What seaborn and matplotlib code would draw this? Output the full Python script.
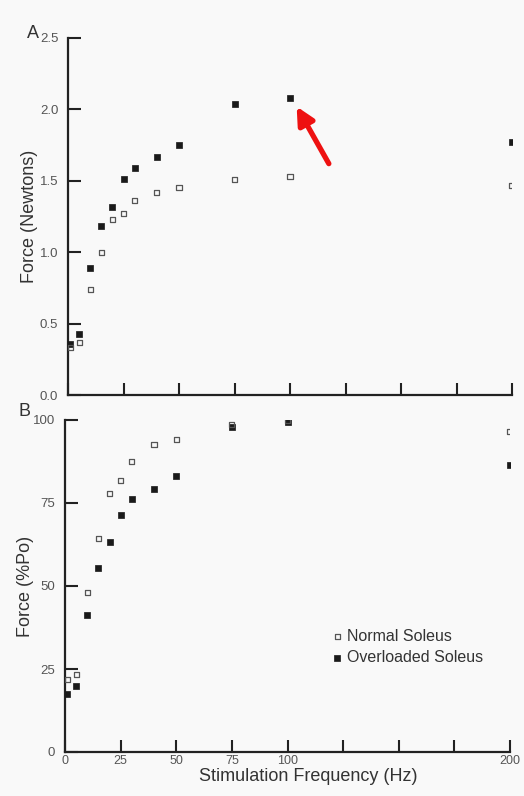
import matplotlib
matplotlib.use("Agg")
import matplotlib.pyplot as plt
import seaborn as sns
import pandas as pd

# ---- data ----
freq = [1, 5, 10, 15, 20, 25, 30, 40, 50, 75, 100, 200]
normal_newtons = [0.33, 0.37, 0.74, 1.00, 1.23, 1.27, 1.36, 1.42, 1.45, 1.51, 1.53, 1.47]
overloaded_newtons = [0.36, 0.43, 0.89, 1.18, 1.32, 1.51, 1.59, 1.67, 1.75, 2.04, 2.08, 1.77]
normal_pct = [21.7, 23.2, 47.9, 64.4, 78.0, 81.9, 87.4, 92.5, 94.2, 98.5, 99.8, 96.5]
overloaded_pct = [17.5, 20.0, 41.3, 55.5, 63.3, 71.4, 76.1, 79.1, 83.1, 98.0, 99.5, 86.4]
series_names = ["Normal Soleus", "Overloaded Soleus"]
xtick_vals = [0, 25, 50, 75, 100, 125, 150, 175, 200]
xtick_labels = ["0", "25", "50", "75", "100", "", "", "", "200"]
ytick_a = [0.0, 0.5, 1.0, 1.5, 2.0, 2.5]
ytick_b = [0, 25, 50, 75, 100]

sns.set_theme(style="ticks")
plt.rcParams["font.family"] = ["Liberation Sans", "DejaVu Sans"]

bg = "#f9f9f9"
ink = "#222222"
tick_ink = "#555555"

fig = plt.figure(figsize=(5.24, 7.96), dpi=100, facecolor=bg)
axA = fig.add_axes([68/524, 1-395/796, 444/524, 357/796])
axB = fig.add_axes([65/524, 1-752/796, 445/524, 332/796])

dfA = pd.DataFrame({"freq": freq, "normal": normal_newtons, "over": overloaded_newtons})
dfB = pd.DataFrame({"freq": freq, "normal": normal_pct, "over": overloaded_pct})

for ax, df in [(axA, dfA), (axB, dfB)]:
    ax.set_facecolor(bg)
    sns.scatterplot(data=df, x="freq", y="over", ax=ax, marker="s", s=22,
                    color="#1a1a1a", edgecolor="#1a1a1a", linewidth=0.5,
                    label=series_names[1], zorder=3)
    sns.scatterplot(data=df, x="freq", y="normal", ax=ax, marker="s", s=13,
                    facecolor="none", edgecolor="#555555", linewidth=0.9,
                    label=series_names[0], zorder=4)
    ax.set_xlim(0, 200)
    ax.set_xticks(xtick_vals)
    for side in ["top", "right"]:
        ax.spines[side].set_visible(False)
    for side in ["left", "bottom"]:
        ax.spines[side].set_linewidth(1.6)
        ax.spines[side].set_color(ink)
    ax.tick_params(direction="in", length=9, width=1.5, color=ink,
                   labelsize=9.5, labelcolor=tick_ink, pad=7)
    ax.tick_params(axis="x", pad=2, labelsize=9)

# Panel A
axA.set_ylim(0, 2.5)
axA.set_yticks(ytick_a)
axA.set_yticklabels([f"{v:.1f}" for v in ytick_a])
axA.set_xticklabels([])
axA.set_xlabel("")
axA.set_ylabel("Force (Newtons)", fontsize=13, color="#333333")
axA.yaxis.set_label_coords(-0.068, 0.5)
axA.get_legend().remove()
axA.annotate("", xy=(103.0, 2.02), xytext=(117.5, 1.62),
             arrowprops=dict(arrowstyle="-|>", color="#ee1111", lw=3.8,
                             mutation_scale=26, shrinkA=0, shrinkB=0),
             zorder=5)
fig.text(33/524, 1-33/796, "A", fontsize=13, color="#333333", ha="center", va="center")

# Panel B
axB.set_ylim(0, 100)
axB.set_yticks(ytick_b)
axB.set_xticklabels(xtick_labels)
axB.set_xlabel("Stimulation Frequency (Hz)", fontsize=13, color="#333333")
axB.xaxis.set_label_coords(0.546, -0.047)
axB.set_ylabel("Force (%Po)", fontsize=13, color="#333333")
axB.yaxis.set_label_coords(-0.07, 0.5)
handles, labels = axB.get_legend_handles_labels()
order = [labels.index(series_names[0]), labels.index(series_names[1])]
axB.legend([handles[i] for i in order], [labels[i] for i in order],
           loc="upper left", bbox_to_anchor=(0.58, 0.39), frameon=False,
           fontsize=11.5, handletextpad=0.1, labelspacing=0.4,
           labelcolor="#333333", borderaxespad=0, handlelength=1.0)
fig.text(24/524, 1-411/796, "B", fontsize=13, color="#333333", ha="center", va="center")

fig.savefig("out.png", dpi=100, facecolor=bg)
